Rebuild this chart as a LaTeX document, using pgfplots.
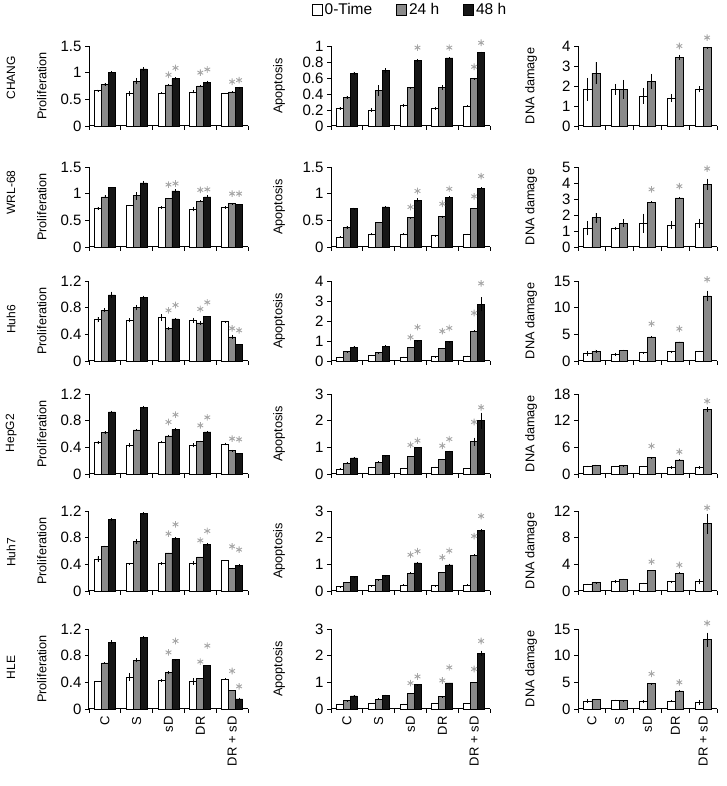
\documentclass[border=0pt]{standalone}
\usepackage{fontspec}
\setmainfont{Liberation Sans}
\usepackage{pgfplots}
\pgfplotsset{compat=1.18}
\definecolor{barGray}{HTML}{8A8A8A}
\definecolor{barBlack}{HTML}{161616}
\definecolor{astGray}{HTML}{A6A6A6}
\newcommand{\labfont}{\fontsize{12.7}{14}\selectfont}

\pgfplotsset{
  panel/.style={
    scale only axis, height=80pt, anchor=south west,
    xmin=0.5, xmax=5.5, ymin=0,
    axis lines=left, axis line style={-, line width=1pt, black},
    xtick={1,...,5}, xticklabels={,,,,},
    minor xtick={0.5,1.5,...,5.5},
    major x tick style={draw=none},
    tick align=outside, major tick length=4pt, minor tick length=4pt,
    tick style={line width=0.9pt, black},
    yticklabel style={font=\fontsize{15}{17}\selectfont},
    xticklabel style={rotate=90, anchor=east, font=\fontsize{13}{15}\selectfont},
    /pgf/number format/assume math mode=true,
    clip=false,
  },
  colA/.style={panel, width=159pt, ylabel={\labfont Proliferation},
    ylabel style={at={(axis description cs:-0.296,0.5)}, anchor=center, font=\labfont}},
  colB/.style={panel, width=159pt, ylabel={\labfont Apoptosis},
    ylabel style={at={(axis description cs:-0.327,0.5)}, anchor=center, font=\labfont}},
  colC/.style={panel, width=139pt, ylabel={\labfont DNA damage},
    ylabel style={at={(axis description cs:-0.338,0.5)}, anchor=center, font=\labfont}},
  lastrow/.style={xticklabels={C,S,sD,DR,DR + sD}},
  barbase/.style={ybar, draw=black, line width=0.7pt, bar shift=0pt,
    legend image code/.code={\draw[##1, line width=0.8pt] (0pt,-5.5pt) rectangle (10pt,5.5pt);},
    /pgfplots/error bars/y dir=both, /pgfplots/error bars/y explicit,
    /pgfplots/error bars/error bar style={line width=0.8pt, black},
    /pgfplots/error bars/error mark options={mark size=0pt}},
  % bars are moved off the group centre by shifting x, so the error bars follow them
  bw/.style={barbase, fill=white, bar width=0.22, x filter/.expression={x-0.22}},
  bg/.style={barbase, fill=barGray, bar width=0.22},
  bk/.style={barbase, fill=barBlack, bar width=0.22, x filter/.expression={x+0.22}},
  dw/.style={barbase, fill=white, bar width=0.29, x filter/.expression={x-0.145}},
  dg/.style={barbase, fill=barGray, bar width=0.29, x filter/.expression={x+0.145}},
  ast/.style={only marks, mark=asterisk, mark size=3.3pt,
    mark options={draw=astGray, line width=0.9pt}},
}

% three bars per group: white, gray, black, then asterisks
\newcommand{\three}[4]{%
  \addplot[bw] coordinates {#1};
  \addplot[bg] coordinates {#2};
  \addplot[bk] coordinates {#3};
  \addplot[ast] coordinates {#4};}
% two bars per group: white, gray, then asterisks
\newcommand{\two}[3]{%
  \addplot[dw] coordinates {#1};
  \addplot[dg] coordinates {#2};
  \addplot[ast] coordinates {#3};}
\newcommand{\rowlab}[2]{\node[rotate=90, font=\fontsize{12}{14}\selectfont]
  at (axis description cs:-0.49,#1) {#2};}

\begin{document}
\begin{tikzpicture}
\useasboundingbox (0pt,0pt) rectangle (727pt,786pt);

% ---------------- CHANG
\begin{axis}[colA, at={(89pt,660pt)}, ymax=1.5, ytick={0,0.5,1,1.5}]
  \three{(1,0.66)+-(0,0.02) (2,0.61)+-(0,0.04) (3,0.62)+-(0,0.02) (4,0.64)+-(0,0.03) (5,0.61)+-(0,0.01)}
        {(1,0.78)+-(0,0.03) (2,0.84)+-(0,0.06) (3,0.77)+-(0,0.02) (4,0.75)+-(0,0.02) (5,0.64)+-(0,0.01)}
        {(1,1.01)+-(0,0.02) (2,1.07)+-(0,0.03) (3,0.89)+-(0,0.02) (4,0.82)+-(0,0.03) (5,0.72)+-(0,0.02)}
        {(3,0.96) (3.22,1.09) (4,1.0) (4.22,1.06) (5,0.83) (5.22,0.86)}
  \rowlab{0.6}{CHANG}
\end{axis}
\begin{axis}[colB, at={(331pt,660pt)}, ymax=1, ytick={0,0.2,0.4,0.6,0.8,1},
  legend style={at={(axis description cs:0.497,1.45)}, anchor=center, draw=none, fill=none,
    legend columns=3, font=\fontsize{15.5}{17}\selectfont,
    /tikz/every even column/.append style={column sep=22pt}}]
  \three{(1,0.22)+-(0,0.02) (2,0.20)+-(0,0.02) (3,0.26)+-(0,0.02) (4,0.22)+-(0,0.02) (5,0.25)+-(0,0.01)}
        {(1,0.36)+-(0,0.02) (2,0.44)+-(0,0.07) (3,0.48)+-(0,0.01) (4,0.48)+-(0,0.03) (5,0.59)+-(0,0.01)}
        {(1,0.66)+-(0,0.02) (2,0.69)+-(0,0.03) (3,0.82)+-(0,0.02) (4,0.85)+-(0,0.01) (5,0.92)+-(0,0.01)}
        {(3.22,0.98) (4.22,0.98) (5,0.74) (5.22,1.04)}
  \legend{0-Time,24 h,48 h}
\end{axis}
\begin{axis}[colC, at={(578pt,660pt)}, ymax=4, ytick={0,1,2,3,4}]
  \two{(1,1.83)+-(0,0.58) (2,1.83)+-(0,0.27) (3,1.50)+-(0,0.40) (4,1.39)+-(0,0.20) (5,1.83)+-(0,0.15)}
      {(1,2.64)+-(0,0.55) (2,1.83)+-(0,0.48) (3,2.23)+-(0,0.38) (4,3.43)+-(0,0.12) (5,3.92)+-(0,0.05)}
      {(4.145,4.0) (5.145,4.42)}
\end{axis}

% ---------------- WRL-68
\begin{axis}[colA, at={(89pt,539pt)}, ymax=1.5, ytick={0,0.5,1,1.5}]
  \three{(1,0.72)+-(0,0.03) (2,0.78)+-(0,0.01) (3,0.74)+-(0,0.03) (4,0.71)+-(0,0.04) (5,0.74)+-(0,0.02)}
        {(1,0.94)+-(0,0.03) (2,0.96)+-(0,0.07) (3,0.91)+-(0,0.01) (4,0.86)+-(0,0.02) (5,0.81)+-(0,0.01)}
        {(1,1.12)+-(0,0.00) (2,1.20)+-(0,0.04) (3,1.05)+-(0,0.03) (4,0.94)+-(0,0.03) (5,0.80)+-(0,0.01)}
        {(3,1.17) (3.22,1.19) (4,1.07) (4.22,1.08) (5,1.0) (5.22,1.0)}
  \rowlab{0.68}{WRL-68}
\end{axis}
\begin{axis}[colB, at={(331pt,539pt)}, ymax=1.5, ytick={0,0.5,1,1.5}]
  \three{(1,0.19)+-(0,0.01) (2,0.24)+-(0,0.02) (3,0.24)+-(0,0.02) (4,0.21)+-(0,0.02) (5,0.24)+-(0,0.01)}
        {(1,0.37)+-(0,0.03) (2,0.46)+-(0,0.00) (3,0.55)+-(0,0.01) (4,0.57)+-(0,0.02) (5,0.72)+-(0,0.00)}
        {(1,0.72)+-(0,0.02) (2,0.75)+-(0,0.01) (3,0.88)+-(0,0.03) (4,0.93)+-(0,0.02) (5,1.10)+-(0,0.02)}
        {(3,0.75) (3.22,1.05) (4,0.81) (4.22,1.09) (5,0.95) (5.22,1.33)}
\end{axis}
\begin{axis}[colC, at={(578pt,539pt)}, ymax=5, ytick={0,1,2,3,4,5}]
  \two{(1,1.18)+-(0,0.45) (2,1.18)+-(0,0.10) (3,1.48)+-(0,0.60) (4,1.38)+-(0,0.25) (5,1.48)+-(0,0.30)}
      {(1,1.83)+-(0,0.30) (2,1.48)+-(0,0.25) (3,2.80)+-(0,0.05) (4,3.07)+-(0,0.05) (5,3.92)+-(0,0.35)}
      {(3.145,3.6) (4.145,3.8) (5.145,4.9)}
\end{axis}

% ---------------- Huh6
\begin{axis}[colA, at={(89pt,425pt)}, ymax=1.2, ytick={0,0.4,0.8,1.2}]
  \three{(1,0.62)+-(0,0.04) (2,0.61)+-(0,0.03) (3,0.65)+-(0,0.05) (4,0.61)+-(0,0.04) (5,0.59)+-(0,0.01)}
        {(1,0.76)+-(0,0.03) (2,0.80)+-(0,0.04) (3,0.49)+-(0,0.02) (4,0.57)+-(0,0.03) (5,0.36)+-(0,0.03)}
        {(1,0.99)+-(0,0.05) (2,0.95)+-(0,0.03) (3,0.63)+-(0,0.01) (4,0.67)+-(0,0.00) (5,0.25)+-(0,0.00)}
        {(3,0.76) (3.22,0.84) (4,0.78) (4.22,0.88) (5,0.49) (5.22,0.46)}
  \rowlab{0.52}{Huh6}
\end{axis}
\begin{axis}[colB, at={(331pt,425pt)}, ymax=4, ytick={0,1,2,3,4}]
  \three{(1,0.20)+-(0,0.02) (2,0.28)+-(0,0.03) (3,0.20)+-(0,0.01) (4,0.21)+-(0,0.01) (5,0.25)+-(0,0.02)}
        {(1,0.46)+-(0,0.03) (2,0.41)+-(0,0.03) (3,0.69)+-(0,0.02) (4,0.63)+-(0,0.03) (5,1.49)+-(0,0.04)}
        {(1,0.69)+-(0,0.05) (2,0.74)+-(0,0.04) (3,1.02)+-(0,0.02) (4,0.96)+-(0,0.04) (5,2.84)+-(0,0.35)}
        {(3,1.19) (3.22,1.69) (4,1.49) (4.22,1.65) (5,2.4) (5.22,3.88)}
\end{axis}
\begin{axis}[colC, at={(578pt,425pt)}, ymax=15, ytick={0,5,10,15}]
  \two{(1,1.42)+-(0,0.40) (2,1.23)+-(0,0.30) (3,1.54)+-(0,0.20) (4,1.73)+-(0,0.20) (5,1.85)+-(0,0.10)}
      {(1,1.85)+-(0,0.30) (2,2.04)+-(0,0.10) (3,4.50)+-(0,0.10) (4,3.58)+-(0,0.05) (5,12.2)+-(0,1.00)}
      {(3.145,7.0) (4.145,6.05) (5.145,15.3)}
\end{axis}

% ---------------- HepG2
\begin{axis}[colA, at={(89pt,312pt)}, ymax=1.2, ytick={0,0.4,0.8,1.2}]
  \three{(1,0.47)+-(0,0.02) (2,0.43)+-(0,0.03) (3,0.48)+-(0,0.02) (4,0.43)+-(0,0.03) (5,0.45)+-(0,0.02)}
        {(1,0.62)+-(0,0.02) (2,0.66)+-(0,0.01) (3,0.57)+-(0,0.02) (4,0.49)+-(0,0.01) (5,0.35)+-(0,0.01)}
        {(1,0.93)+-(0,0.02) (2,1.00)+-(0,0.02) (3,0.67)+-(0,0.02) (4,0.63)+-(0,0.01) (5,0.31)+-(0,0.00)}
        {(3,0.78) (3.22,0.89) (4,0.73) (4.22,0.85) (5,0.53) (5.22,0.52)}
  \rowlab{0.51}{HepG2}
\end{axis}
\begin{axis}[colB, at={(331pt,312pt)}, ymax=3, ytick={0,1,2,3}]
  \three{(1,0.19)+-(0,0.02) (2,0.25)+-(0,0.03) (3,0.21)+-(0,0.01) (4,0.25)+-(0,0.03) (5,0.21)+-(0,0.01)}
        {(1,0.41)+-(0,0.03) (2,0.44)+-(0,0.03) (3,0.66)+-(0,0.01) (4,0.56)+-(0,0.01) (5,1.21)+-(0,0.15)}
        {(1,0.60)+-(0,0.03) (2,0.69)+-(0,0.02) (3,1.00)+-(0,0.01) (4,0.85)+-(0,0.03) (5,2.00)+-(0,0.30)}
        {(3,1.09) (3.22,1.25) (4,1.06) (4.22,1.31) (5,1.95) (5.22,2.5)}
\end{axis}
\begin{axis}[colC, at={(578pt,312pt)}, ymax=18, ytick={0,6,12,18}]
  \two{(1,1.70)+-(0,0.20) (2,1.70)+-(0,0.10) (3,1.70)+-(0,0.10) (4,1.48)+-(0,0.30) (5,1.48)+-(0,0.30)}
      {(1,1.93)+-(0,0.20) (2,1.85)+-(0,0.10) (3,3.70)+-(0,0.15) (4,3.18)+-(0,0.10) (5,14.5)+-(0,0.60)}
      {(3.145,6.3) (4.145,5.0) (5.145,16.4)}
\end{axis}

% ---------------- Huh7
\begin{axis}[colA, at={(89pt,195pt)}, ymax=1.2, ytick={0,0.4,0.8,1.2}]
  \three{(1,0.48)+-(0,0.04) (2,0.41)+-(0,0.01) (3,0.41)+-(0,0.02) (4,0.42)+-(0,0.03) (5,0.46)+-(0,0.00)}
        {(1,0.67)+-(0,0.01) (2,0.74)+-(0,0.04) (3,0.57)+-(0,0.00) (4,0.51)+-(0,0.00) (5,0.34)+-(0,0.01)}
        {(1,1.07)+-(0,0.02) (2,1.16)+-(0,0.02) (3,0.79)+-(0,0.02) (4,0.70)+-(0,0.02) (5,0.38)+-(0,0.02)}
        {(3,0.86) (3.22,1.0) (4,0.76) (4.22,0.9) (5,0.67) (5.22,0.62)}
  \rowlab{0.48}{Huh7}
\end{axis}
\begin{axis}[colB, at={(331pt,195pt)}, ymax=3, ytick={0,1,2,3}]
  \three{(1,0.16)+-(0,0.02) (2,0.20)+-(0,0.01) (3,0.23)+-(0,0.02) (4,0.20)+-(0,0.01) (5,0.23)+-(0,0.02)}
        {(1,0.32)+-(0,0.02) (2,0.42)+-(0,0.03) (3,0.67)+-(0,0.03) (4,0.71)+-(0,0.01) (5,1.34)+-(0,0.04)}
        {(1,0.54)+-(0,0.03) (2,0.58)+-(0,0.02) (3,1.05)+-(0,0.03) (4,0.98)+-(0,0.05) (5,2.27)+-(0,0.05)}
        {(3,1.36) (3.22,1.49) (4,1.26) (4.22,1.51) (5,2.06) (5.22,2.81)}
\end{axis}
\begin{axis}[colC, at={(578pt,195pt)}, ymax=12, ytick={0,4,8,12}]
  \two{(1,1.00)+-(0,0.10) (2,1.41)+-(0,0.20) (3,1.16)+-(0,0.10) (4,1.41)+-(0,0.15) (5,1.41)+-(0,0.40)}
      {(1,1.26)+-(0,0.15) (2,1.77)+-(0,0.10) (3,3.03)+-(0,0.00) (4,2.68)+-(0,0.10) (5,10.1)+-(0,1.50)}
      {(3.145,4.4) (4.145,3.9) (5.145,12.5)}
\end{axis}

% ---------------- HLE
\begin{axis}[colA, lastrow, at={(89pt,77pt)}, ymax=1.2, ytick={0,0.4,0.8,1.2}]
  \three{(1,0.41)+-(0,0.00) (2,0.48)+-(0,0.06) (3,0.43)+-(0,0.02) (4,0.41)+-(0,0.05) (5,0.45)+-(0,0.01)}
        {(1,0.69)+-(0,0.01) (2,0.73)+-(0,0.03) (3,0.55)+-(0,0.02) (4,0.46)+-(0,0.00) (5,0.28)+-(0,0.00)}
        {(1,1.00)+-(0,0.03) (2,1.07)+-(0,0.02) (3,0.74)+-(0,0.01) (4,0.65)+-(0,0.00) (5,0.15)+-(0,0.02)}
        {(3,0.85) (3.22,1.02) (4,0.71) (4.22,0.95) (5,0.57) (5.22,0.34)}
  \rowlab{0.52}{HLE}
\end{axis}
\begin{axis}[colB, lastrow, at={(331pt,77pt)}, ymax=3, ytick={0,1,2,3}]
  \three{(1,0.19)+-(0,0.00) (2,0.22)+-(0,0.00) (3,0.19)+-(0,0.00) (4,0.21)+-(0,0.00) (5,0.21)+-(0,0.00)}
        {(1,0.31)+-(0,0.02) (2,0.37)+-(0,0.03) (3,0.57)+-(0,0.00) (4,0.46)+-(0,0.02) (5,1.01)+-(0,0.00)}
        {(1,0.49)+-(0,0.03) (2,0.52)+-(0,0.02) (3,0.91)+-(0,0.02) (4,0.98)+-(0,0.00) (5,2.09)+-(0,0.10)}
        {(3,0.97) (3.22,1.22) (4,1.07) (4.22,1.56) (5,1.5) (5.22,2.55)}
\end{axis}
\begin{axis}[colC, lastrow, at={(578pt,77pt)}, ymax=15, ytick={0,5,10,15}]
  \two{(1,1.48)+-(0,0.40) (2,1.66)+-(0,0.10) (3,1.35)+-(0,0.30) (4,1.48)+-(0,0.20) (5,1.23)+-(0,0.50)}
      {(1,1.84)+-(0,0.00) (2,1.54)+-(0,0.10) (3,4.73)+-(0,0.15) (4,3.38)+-(0,0.20) (5,13.0)+-(0,1.30)}
      {(3.145,6.6) (4.145,5.0) (5.145,16.1)}
\end{axis}
\end{tikzpicture}
\end{document}
